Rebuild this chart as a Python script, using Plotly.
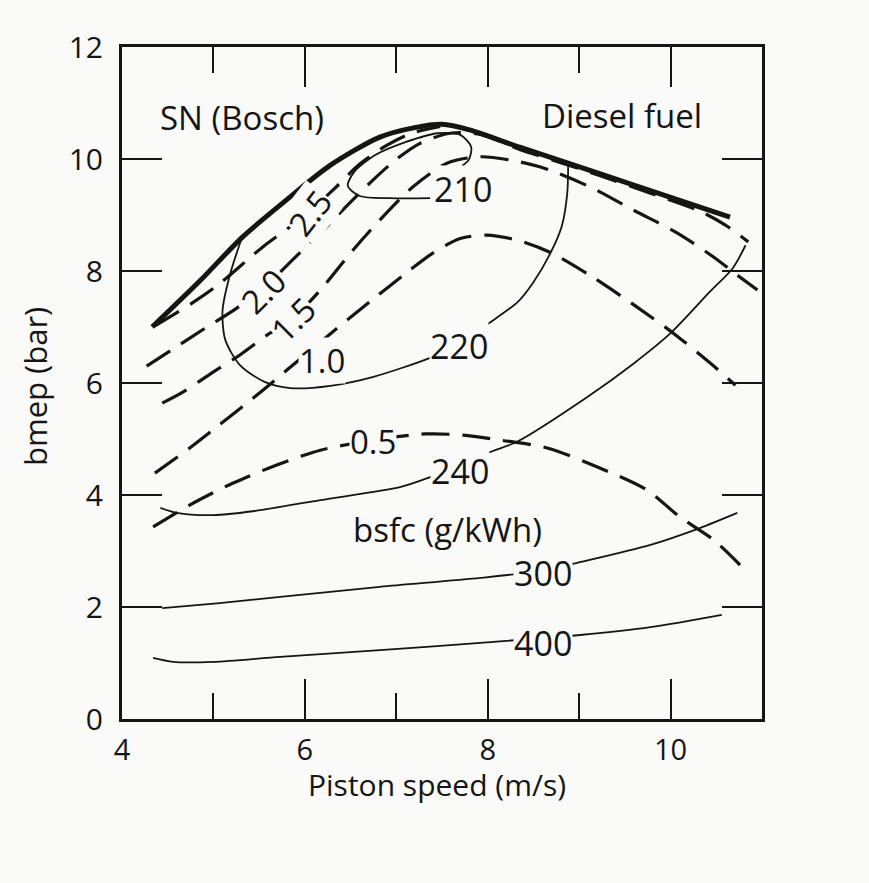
import plotly.graph_objects as go

# ---------------- data ----------------
# full-load (maximum bmep) curve, thick solid
max_x = [4.33, 4.85, 5.32, 5.80, 6.28, 6.82, 7.20, 7.50, 7.80, 8.35, 8.87, 9.59, 10.65]
max_y = [7.00, 7.82, 8.61, 9.27, 9.89, 10.39, 10.56, 10.62, 10.52, 10.21, 9.93, 9.54, 8.96]

# smoke number (Bosch) contours, dashed
sn25_x = [4.36, 4.77, 5.05, 5.54, 5.84, 6.06, 6.33, 6.60, 6.88, 7.15, 7.48]
sn25_y = [7.02, 7.43, 7.75, 8.43, 8.79, 9.07, 9.48, 9.91, 10.23, 10.45, 10.58]

sn20_x = [4.27, 4.58, 4.91, 5.24, 5.54, 5.84, 6.17, 6.44, 6.71, 6.99, 7.26, 7.59, 7.92,
          8.35, 8.79, 9.23, 9.78, 10.32, 10.60, 10.85]
sn20_y = [6.30, 6.63, 6.98, 7.32, 7.68, 8.16, 8.68, 9.13, 9.57, 9.98, 10.28, 10.46, 10.44,
          10.17, 9.94, 9.70, 9.39, 9.07, 8.82, 8.52]

sn15_x = [4.44, 4.67, 5.00, 5.29, 5.59, 5.87, 6.17, 6.53, 6.82, 7.18, 7.56, 7.92, 8.25,
          8.61, 9.12, 9.59, 10.07, 10.47, 10.71, 10.95]
sn15_y = [5.64, 5.84, 6.20, 6.50, 6.86, 7.16, 7.66, 8.38, 8.91, 9.50, 9.93, 10.04, 9.98,
          9.84, 9.50, 9.09, 8.68, 8.25, 7.95, 7.66]

sn10_x = [4.36, 4.74, 5.07, 5.51, 5.81, 6.28, 6.71, 7.12, 7.40, 7.70, 7.99, 8.35, 8.70,
          9.15, 9.63, 10.03, 10.43, 10.71]
sn10_y = [4.39, 4.84, 5.26, 5.83, 6.24, 6.88, 7.45, 7.98, 8.32, 8.58, 8.64, 8.54, 8.32,
          7.89, 7.36, 6.89, 6.36, 5.96]

sn05_x = [4.34, 4.74, 5.21, 5.70, 6.17, 6.75, 7.32, 7.73, 8.14, 8.65, 9.20, 9.74, 10.10,
          10.47, 10.76]
sn05_y = [3.43, 3.82, 4.21, 4.54, 4.80, 4.98, 5.09, 5.07, 4.98, 4.84, 4.50, 4.09, 3.61,
          3.20, 2.75]

# bsfc (g/kWh) contours, thin solid
b210_x = [7.72, 7.79, 7.82, 7.70, 7.45, 7.10, 6.77, 6.54, 6.47, 6.60, 6.93, 7.37]
b210_y = [9.88, 9.98, 10.21, 10.43, 10.46, 10.30, 10.07, 9.77, 9.52, 9.34, 9.30, 9.30]

b220_x = [5.31, 5.18, 5.10, 5.13, 5.29, 5.56, 5.84, 6.28, 6.75, 7.37, 7.70, 7.99, 8.33,
          8.50, 8.68, 8.81, 8.87, 8.88]
b220_y = [8.59, 7.93, 7.30, 6.77, 6.32, 6.02, 5.91, 5.95, 6.11, 6.45, 6.70, 7.04, 7.45,
          7.80, 8.30, 8.80, 9.39, 9.93]

b240_x = [4.42, 4.60, 5.00, 5.43, 6.17, 7.04, 7.34, 8.03, 8.32, 9.09, 9.59, 10.00, 10.43,
          10.68, 10.82]
b240_y = [3.77, 3.68, 3.64, 3.71, 3.91, 4.14, 4.30, 4.77, 4.95, 5.75, 6.34, 6.89, 7.63,
          8.05, 8.46]

b300_x = [4.44, 5.07, 5.73, 6.82, 7.92, 8.60, 8.98, 9.78, 10.32, 10.73]
b300_y = [1.98, 2.07, 2.18, 2.36, 2.52, 2.65, 2.79, 3.11, 3.41, 3.68]

b400_x = [4.34, 4.56, 5.00, 5.73, 6.82, 7.92, 9.01, 9.78, 10.56]
b400_y = [1.09, 1.02, 1.02, 1.11, 1.23, 1.36, 1.50, 1.64, 1.86]

# contour labels
sn_labels = ["2.5", "2.0", "1.5", "1.0", "0.5"]
sn_label_x = [6.06, 5.54, 5.87, 6.19, 6.75]
sn_label_y = [9.04, 7.64, 7.13, 6.41, 4.95]
sn_label_angle = [-52, -45, -45, 0, 0]

bsfc_labels = ["210", "220", "240", "300", "400"]
bsfc_label_x = [7.73, 7.69, 7.70, 8.60, 8.60]
bsfc_label_y = [9.46, 6.66, 4.43, 2.61, 1.36]

x_ticks = [4, 6, 8, 10]
y_ticks = [0, 2, 4, 6, 8, 10, 12]

# ---------------- styling ----------------
INK = "#151515"
PAPER = "#fafaf8"
FONT = "Open Sans"

fig = go.Figure()

def add_line(x, y, width, dash=None):
    fig.add_trace(go.Scatter(
        x=x, y=y, mode="lines",
        line=dict(color=INK, width=width, shape="spline", smoothing=0.8,
                  dash=dash if dash else "solid"),
        hoverinfo="skip", showlegend=False))

for bx, by in [(b210_x, b210_y), (b220_x, b220_y), (b240_x, b240_y),
               (b300_x, b300_y), (b400_x, b400_y)]:
    add_line(bx, by, 1.8)

for sx, sy in [(sn25_x, sn25_y), (sn20_x, sn20_y), (sn15_x, sn15_y),
               (sn10_x, sn10_y), (sn05_x, sn05_y)]:
    add_line(sx, sy, 3.2, dash="28px,13px")

add_line(max_x, max_y, 5)

annotations = []
for t, x, y, a in zip(sn_labels, sn_label_x, sn_label_y, sn_label_angle):
    annotations.append(dict(x=x, y=y, text=t, showarrow=False, textangle=a,
                            xanchor="center", yanchor="middle",
                            font=dict(size=33, color=INK, family=FONT),
                            bgcolor=PAPER, borderpad=0))
for t, x, y in zip(bsfc_labels, bsfc_label_x, bsfc_label_y):
    annotations.append(dict(x=x, y=y, text=t, showarrow=False,
                            xanchor="center", yanchor="middle",
                            font=dict(size=34, color=INK, family=FONT),
                            bgcolor=PAPER, borderpad=0))

annotations += [
    dict(x=5.31, y=10.75, text="SN (Bosch)", showarrow=False,
         xanchor="center", yanchor="middle",
         font=dict(size=33, color=INK, family=FONT)),
    dict(x=9.47, y=10.77, text="Diesel fuel", showarrow=False,
         xanchor="center", yanchor="middle",
         font=dict(size=33, color=INK, family=FONT)),
    dict(x=7.56, y=3.38, text="bsfc (g/kWh)", showarrow=False,
         xanchor="center", yanchor="middle",
         font=dict(size=33, color=INK, family=FONT)),
    dict(xref="paper", yref="paper", x=0.492, y=-0.097, text="Piston speed (m/s)",
         xanchor="center", yanchor="middle",
         showarrow=False, font=dict(size=30, color=INK, family=FONT)),
    dict(xref="paper", yref="paper", x=-0.136, y=0.4955, text="bmep (bar)",
         xanchor="center", yanchor="middle",
         textangle=-90, showarrow=False, font=dict(size=31, color=INK, family=FONT)),
]

fig.update_layout(
    width=869, height=883,
    margin=dict(l=122, r=107, t=47, b=164),
    paper_bgcolor=PAPER, plot_bgcolor=PAPER,
    annotations=annotations,
    showlegend=False,
)

fig.update_xaxes(
    range=[4, 11], tickvals=x_ticks, ticks="inside", ticklen=40, tickwidth=2,
    tickcolor=INK, showline=True, linecolor=INK, linewidth=3, mirror="ticks",
    showgrid=False, zeroline=False, ticklabelstandoff=3,
    tickfont=dict(size=29, color=INK, family=FONT),
    minor=dict(tickvals=[5, 7, 9], ticks="inside", ticklen=26, tickwidth=2,
               tickcolor=INK, showgrid=False),
)
fig.update_yaxes(
    range=[0, 12], tickvals=y_ticks, ticks="inside", ticklen=40, tickwidth=2,
    tickcolor=INK, showline=True, linecolor=INK, linewidth=3, mirror="ticks",
    showgrid=False, zeroline=False, ticklabelstandoff=10,
    tickfont=dict(size=30, color=INK, family=FONT),
)

fig.write_html("out.html", config={"displayModeBar": False},
               post_script="document.body.style.margin='0';")
